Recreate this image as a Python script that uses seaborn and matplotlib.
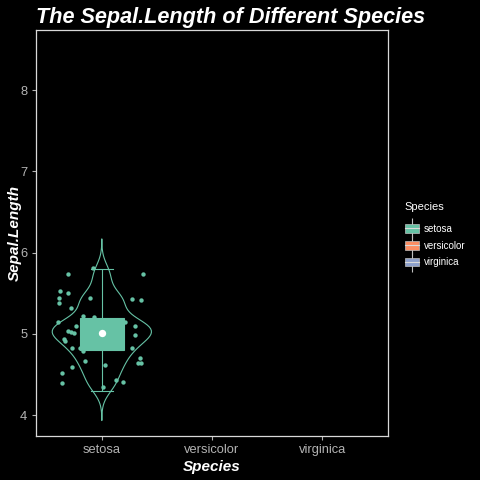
import numpy as np
import pandas as pd
import matplotlib
matplotlib.use('Agg')
import matplotlib.pyplot as plt
import seaborn as sns
from matplotlib.patches import Patch
from matplotlib.lines import Line2D

species = ['setosa', 'versicolor', 'virginica']
palette = ['#66C2A5', '#FC8D62', '#8DA0CB']

# Sepal.Length of setosa (only group drawn in this frame)
setosa_len = [5.1, 4.9, 4.7, 4.6, 5.0, 5.4, 4.6, 5.0, 4.4, 4.9,
              5.4, 4.8, 4.8, 4.3, 5.8, 5.7, 5.4, 5.1, 5.7, 5.1,
              5.4, 5.1, 4.6, 5.1, 4.8, 5.0, 5.0, 5.2, 5.2, 4.7,
              4.8, 5.4, 5.2, 5.5, 4.9, 5.0, 5.5, 4.9, 4.4, 5.1,
              5.0, 4.5, 4.4, 5.0, 5.1, 4.8, 5.1, 4.6, 5.3, 5.0]

# jittered points (offset from category centre, value)
jit_dx = [-0.08, -0.31, 0.37, -0.38, -0.31, -0.39, -0.39, -0.11, 0.27, 0.36,
          -0.28, -0.40, -0.17, -0.075, -0.23, 0.21, 0.30, -0.31, -0.28, -0.25,
          0.30, -0.34, -0.33, 0.27, -0.27, -0.20, -0.17, 0.35, 0.33, 0.36,
          -0.15, 0.03, -0.27, -0.36, -0.36, 0.13, 0.19, 0.015]
jit_y = [5.81, 5.74, 5.74, 5.53, 5.50, 5.44, 5.38, 5.44, 5.43, 5.42,
         5.32, 5.15, 5.22, 5.21, 5.10, 5.14, 5.10, 5.04, 5.02, 5.01,
         4.99, 4.94, 4.91, 4.83, 4.82, 4.82, 4.79, 4.70, 4.64, 4.64,
         4.67, 4.61, 4.59, 4.52, 4.40, 4.43, 4.41, 4.34]

df = pd.DataFrame({'Species': 'setosa', 'Sepal.Length': setosa_len})
col = palette[0]

plt.rcParams['font.family'] = ['Liberation Sans', 'DejaVu Sans']
fig = plt.figure(figsize=(4.8, 4.8), dpi=100, facecolor='black')
ax = fig.add_axes([0.0744, 0.0917, 0.7346, 0.8468], facecolor='black')

sns.violinplot(data=df, x='Species', y='Sepal.Length', order=species, color=col,
               fill=False, inner=None, cut=3, bw_method=0.348, width=0.9,
               linewidth=0.8, saturation=1, ax=ax)
ax.scatter(np.array(jit_dx), jit_y, s=10, color=col, linewidths=0, zorder=1)
sns.boxplot(data=df, x='Species', y='Sepal.Length', order=species, color=col,
            linecolor=col, width=0.4, showfliers=False, saturation=1,
            linewidth=0.8, ax=ax)
ax.scatter([0], [np.mean(setosa_len)], s=28, color='white', linewidths=0, zorder=5)

ax.set_xlim(-0.6, 2.6)
ax.set_ylim(3.742, 8.745)
ax.set_yticks([4, 5, 6, 7, 8])
ax.tick_params(colors='#B3B3B3', labelsize=9.3, length=3, width=0.8, pad=3)
for s in ax.spines.values():
    s.set_color('#D9D9D9')
    s.set_linewidth(0.9)

lab = dict(color='white', fontsize=11, fontweight='bold', fontstyle='italic')
ax.set_xlabel('Species', labelpad=3, **lab)
ax.set_ylabel('Sepal.Length', labelpad=-1, **lab)
ax.set_title('The Sepal.Length of Different Species', loc='left', pad=5,
             color='white', fontsize=15.6, fontweight='bold', fontstyle='italic')

handles = []
for c in palette:
    handles.append((Line2D([], [], color='#BFBFBF', marker='|', markersize=15,
                           linestyle='none', markeredgewidth=0.8),
                    Patch(facecolor=c, edgecolor='#BFBFBF', linewidth=0.5),
                    Line2D([], [], color='#D9D9D9', linewidth=0.8)))
leg = fig.legend(handles, species, title='Species', loc='upper left',
                 bbox_to_anchor=(0.825, 0.5975), frameon=False, fontsize=7,
                 title_fontsize=8, labelcolor='white', handlelength=1.45,
                 handleheight=1.0, handletextpad=0.5, labelspacing=0.7)
leg.get_title().set_color('white')
leg._legend_box.align = 'left'
leg._legend_box.sep = 8.5

fig.savefig('out.png', dpi=100, facecolor='black')
